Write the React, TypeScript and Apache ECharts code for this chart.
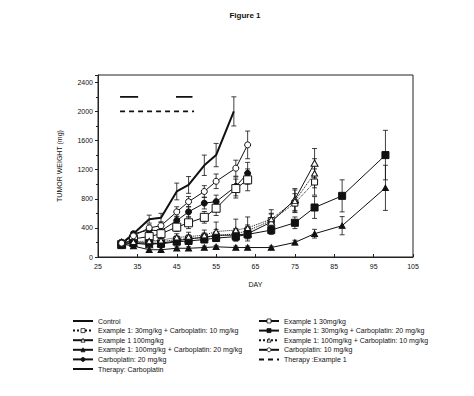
import React, { useEffect, useRef } from "react";
import * as echarts from "echarts";

// ---------- data ----------
const shortDays = [31, 34, 38, 41, 45, 48, 52, 55, 60, 63];
const controlDays = [31, 34, 38, 41, 45, 48, 52, 55, 59.5];
const midDays = [31, 34, 38, 41, 45, 48, 52, 55, 60, 63, 69, 75, 80];
const longDays = [31, 34, 38, 41, 45, 48, 52, 55, 60, 63, 69, 75, 80, 87, 98];

const controlVals = [185, 320, 520, 540, 900, 990, 1260, 1400, 2000];
const controlErr = [30, 30, 55, 60, 115, 115, 140, 160, 200];

const carbo10Vals = [190, 290, 400, 430, 620, 760, 900, 1040, 1220, 1540];
const carbo10Err = [30, 30, 40, 50, 70, 70, 80, 100, 110, 190];

const carbo20Vals = [180, 320, 370, 360, 500, 620, 740, 760, 970, 1150];
const carbo20Err = [30, 30, 40, 40, 60, 70, 80, 90, 130, 150];

const ex30Vals = [170, 250, 280, 320, 410, 470, 545, 670, 940, 1060];
const ex30Err = [30, 40, 40, 50, 60, 80, 80, 100, 130, 150];

const ex100c20Vals = [180, 150, 100, 100, 120, 120, 130, 140, 130, 130, 130, 200, 320, 430, 950];
const ex100c20Err = [30, 30, 30, 30, 20, 20, 20, 20, 20, 20, 20, 30, 60, 125, 310];

const ex30c20Vals = [170, 190, 190, 180, 210, 220, 240, 260, 280, 310, 370, 470, 680, 840, 1400];
const ex30c20Err = [30, 30, 30, 30, 40, 40, 40, 40, 50, 50, 60, 80, 150, 220, 340];

const ex30c10Vals = [170, 200, 200, 210, 240, 250, 270, 290, 320, 360, 500, 740, 1030];
const ex30c10Err = [30, 40, 40, 40, 50, 50, 50, 60, 70, 80, 100, 130, 180];

const ex100Vals = [200, 190, 170, 190, 220, 250, 270, 300, 300, 320, 480, 790, 1290];
const ex100Err = [30, 30, 30, 40, 50, 50, 60, 80, 80, 100, 110, 150, 200];

const ex100c10Vals = [210, 210, 220, 230, 270, 280, 300, 350, 370, 400, 520, 770, 1150];
const ex100c10Err = [30, 30, 40, 40, 50, 60, 70, 130, 150, 150, 130, 150, 200];

// therapy periods (days) and the level at which each bar is drawn
const therapyCarboPeriods = [[30.6, 35.2], [44.8, 49]];
const therapyCarboLevel = 2200;
const therapyEx1Periods = [[30.6, 49.4]];
const therapyEx1Level = 2000;

const FONT = "'Liberation Sans', Arial, sans-serif";

type Spec = {
  name: string;
  days: number[];
  vals: number[];
  err: number[];
  symbol: string;
  filled: boolean;
  size: number;
  lineType: "solid" | "dotted" | "dashed";
  width: number;
};

const specs: Spec[] = [
  { name: "Control", days: controlDays, vals: controlVals, err: controlErr, symbol: "none", filled: true, size: 0, lineType: "solid", width: 2 },
  { name: "Example 1: 30mg/kg + Carboplatin: 10 mg/kg", days: midDays, vals: ex30c10Vals, err: ex30c10Err, symbol: "rect", filled: false, size: 6, lineType: "dotted", width: 1 },
  { name: "Example 1 100mg/kg", days: midDays, vals: ex100Vals, err: ex100Err, symbol: "triangle", filled: false, size: 7, lineType: "solid", width: 1 },
  { name: "Example 1: 100mg/kg + Carboplatin: 20 mg/kg", days: longDays, vals: ex100c20Vals, err: ex100c20Err, symbol: "triangle", filled: true, size: 6, lineType: "solid", width: 1 },
  { name: "Carboplatin: 20 mg/kg", days: shortDays, vals: carbo20Vals, err: carbo20Err, symbol: "circle", filled: true, size: 6, lineType: "solid", width: 1 },
  { name: "Example 1 30mg/kg", days: shortDays, vals: ex30Vals, err: ex30Err, symbol: "rect", filled: false, size: 8, lineType: "solid", width: 1 },
  { name: "Example 1: 30mg/kg + Carboplatin: 20 mg/kg", days: longDays, vals: ex30c20Vals, err: ex30c20Err, symbol: "rect", filled: true, size: 7, lineType: "solid", width: 1 },
  { name: "Example 1: 100mg/kg + Carboplatin: 10 mg/kg", days: midDays, vals: ex100c10Vals, err: ex100c10Err, symbol: "triangle", filled: false, size: 6, lineType: "dotted", width: 1 },
  { name: "Carboplatin: 10 mg/kg", days: shortDays, vals: carbo10Vals, err: carbo10Err, symbol: "circle", filled: false, size: 6, lineType: "solid", width: 1 },
];

const noSymbolNames = ["Control", "Therapy: Carboplatin", "Therapy :Example 1"];

const leftLegend = [
  "Control",
  "Example 1: 30mg/kg + Carboplatin: 10 mg/kg",
  "Example 1 100mg/kg",
  "Example 1: 100mg/kg + Carboplatin: 20 mg/kg",
  "Carboplatin: 20 mg/kg",
  "Therapy: Carboplatin",
];
const rightLegend = [
  "Example 1 30mg/kg",
  "Example 1: 30mg/kg + Carboplatin: 20 mg/kg",
  "Example 1: 100mg/kg + Carboplatin: 10 mg/kg",
  "Carboplatin: 10 mg/kg",
  "Therapy :Example 1",
];

function periodsToData(periods: number[][], level: number) {
  const out: any[] = [];
  periods.forEach((p, i) => {
    if (i > 0) out.push([(periods[i - 1][1] + p[0]) / 2, "-"]);
    out.push([p[0], level]);
    out.push([p[1], level]);
  });
  return out;
}

function legendItems(names: string[]) {
  return names.map((n) =>
    noSymbolNames.includes(n)
      ? { name: n, itemStyle: { opacity: 0 }, textStyle: { color: "#111" } }
      : { name: n }
  );
}

export default function App() {
  const ref = useRef<HTMLDivElement>(null);
  useEffect(() => {
    if (!ref.current) return;
    const chart = echarts.init(ref.current, null, { renderer: "svg" });

    const errData: number[][] = [];
    specs.forEach((s) => {
      s.days.forEach((d, i) => {
        if (s.err[i] > 0) errData.push([d, s.vals[i], s.err[i]]);
      });
    });

    const lineSeries: any[] = specs.map((s) => ({
      type: "line",
      name: s.name,
      data: s.days.map((d, i) => [d, s.vals[i]]),
      symbol: s.symbol,
      symbolSize: s.symbol === "triangle" ? [s.size, s.size * 0.9] : s.size,
      showSymbol: s.symbol !== "none",
      lineStyle: { color: "#111", width: s.width, type: s.lineType },
      itemStyle: {
        color: s.filled ? "#111" : "#fff",
        borderColor: "#111",
        borderWidth: 1,
      },
      z: 3,
    }));

    lineSeries.push({
      type: "line",
      name: "Therapy: Carboplatin",
      data: periodsToData(therapyCarboPeriods, therapyCarboLevel),
      symbol: "none",
      connectNulls: false,
      lineStyle: { color: "#111", width: 1.6, type: "solid" },
      itemStyle: { color: "#111" },
      z: 3,
    });
    lineSeries.push({
      type: "line",
      name: "Therapy :Example 1",
      data: periodsToData(therapyEx1Periods, therapyEx1Level),
      symbol: "none",
      lineStyle: { color: "#111", width: 1.6, type: [5, 4] },
      itemStyle: { color: "#111" },
      z: 3,
    });

    lineSeries.push({
      type: "custom",
      name: "errors",
      data: errData,
      z: 2,
      renderItem: (params: any, api: any) => {
        const x = api.value(0);
        const y = api.value(1);
        const e = api.value(2);
        const top = api.coord([x, y + e]);
        const bot = api.coord([x, Math.max(0, y - e)]);
        const w = 2.5;
        const st = { stroke: "#111", lineWidth: 0.8 };
        return {
          type: "group",
          children: [
            { type: "line", shape: { x1: top[0], y1: top[1], x2: bot[0], y2: bot[1] }, style: st },
            { type: "line", shape: { x1: top[0] - w, y1: top[1], x2: top[0] + w, y2: top[1] }, style: st },
            { type: "line", shape: { x1: bot[0] - w, y1: bot[1], x2: bot[0] + w, y2: bot[1] }, style: st },
          ],
        };
      },
    });

    const legendCommon = {
      orient: "vertical",
      itemWidth: 20,
      itemHeight: 5,
      itemGap: 1.6,
      selectedMode: false,
      itemStyle: { borderWidth: 0.8 },
      textStyle: { fontFamily: FONT, fontSize: 7, color: "#111", lineHeight: 8 },
    };

    chart.setOption({
      animation: false,
      backgroundColor: "#fff",
      title: {
        text: "Figure 1",
        left: 240,
        top: 6,
        textAlign: "center",
        textStyle: { fontFamily: FONT, fontSize: 8, fontWeight: "bold", color: "#111" },
      },
      grid: {
        left: 98,
        top: 75,
        width: 315,
        height: 182,
        show: true,
        borderColor: "#222",
        borderWidth: 1,
        backgroundColor: "transparent",
      },
      xAxis: {
        type: "value",
        min: 25,
        max: 105,
        interval: 10,
        name: "DAY",
        nameLocation: "middle",
        nameGap: 24,
        nameTextStyle: { fontFamily: FONT, fontSize: 7, color: "#111" },
        axisLine: { show: true, onZero: false, lineStyle: { color: "#222" } },
        axisTick: { show: true, inside: true, length: 3, lineStyle: { color: "#222" } },
        splitLine: { show: false },
        axisLabel: {
          fontFamily: FONT,
          fontSize: 7,
          color: "#111",
          margin: 6,
          formatter: (v: number) => String(v),
        },
      },
      yAxis: {
        type: "value",
        min: 0,
        max: 2500,
        interval: 400,
        name: "TUMOR WEIGHT (mg)",
        nameLocation: "middle",
        nameGap: 35,
        nameTextStyle: { fontFamily: FONT, fontSize: 7, color: "#111" },
        axisLine: { show: true, lineStyle: { color: "#222" } },
        axisTick: { show: true, length: 3, lineStyle: { color: "#222" } },
        minorTick: { show: true, splitNumber: 2, length: 2, lineStyle: { color: "#222" } },
        splitLine: { show: false },
        axisLabel: {
          fontFamily: FONT,
          fontSize: 7,
          color: "#111",
          margin: 5,
          showMaxLabel: false,
          formatter: (v: number) => String(v),
        },
      },
      legend: [
        { ...legendCommon, left: 67, top: 312, data: legendItems(leftLegend) },
        { ...legendCommon, left: 253, top: 312, data: legendItems(rightLegend) },
      ],
      series: lineSeries,
    });

    return () => chart.dispose();
  }, []);

  return (
    <div
      ref={ref}
      style={{ position: "absolute", left: 0, top: 0, width: 474, height: 396, background: "#fff" }}
    />
  );
}
